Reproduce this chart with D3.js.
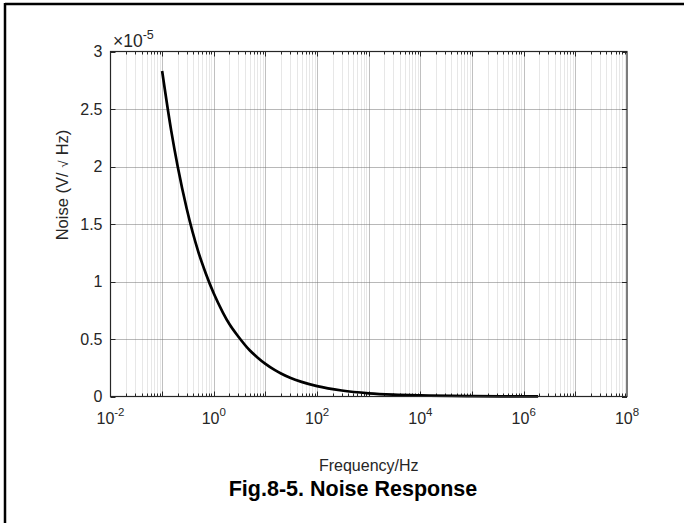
<!DOCTYPE html>
<html lang="en">
<head>
<meta charset="utf-8">
<title>Noise Response</title>
<script src="https://cdn.jsdelivr.net/npm/d3@7"></script>
<style>
  body { margin: 0; background: #fff; }
  svg text { font-family: "Liberation Sans", Arial, sans-serif; fill: #262626; }
</style>
</head>
<body>
<div id="chart"></div>
<script>
// data (noise in units of 1e-5 V/sqrt(Hz))
var freqHz   = [0.1, 0.15, 0.2, 0.3, 0.5, 0.7, 1, 1.5, 2, 3, 5, 7, 10, 15, 20, 30, 50, 100, 300, 1000, 3000, 1e4, 1e5, 1e6, 1.9e6];
var noiseE5  = [2.83, 2.31, 2.0, 1.63, 1.26, 1.07, 0.895, 0.73, 0.63, 0.52, 0.40, 0.34, 0.283, 0.231, 0.20, 0.163, 0.127, 0.09, 0.052, 0.028, 0.016, 0.009, 0.003, 0.001, 0.0006];
var xTickExp = [-2, 0, 2, 4, 6, 8];
var yTicks   = [0, 0.5, 1, 1.5, 2, 2.5, 3];

var w = 684, h = 523;
var pL = 110.5, pR = 627, pT = 51.5, pB = 396.5;

var svg = d3.select("#chart").append("svg")
  .attr("width", w).attr("height", h);

// outer frame (top + left only)
svg.append("line").attr("x1", 5).attr("x2", w).attr("y1", 4).attr("y2", 4)
  .attr("stroke", "#000").attr("stroke-width", 2.5);
svg.append("line").attr("x1", 5).attr("x2", 5).attr("y1", 3).attr("y2", h)
  .attr("stroke", "#000").attr("stroke-width", 2.5);

var xScale = d3.scaleLog().domain([1e-2, 1e8]).range([pL, pR]);
var yScale = d3.scaleLinear().domain([0, 3]).range([pB, pT]);

// minor x positions: 2..9 in every decade
var minorX = [];
for (var e = -2; e < 8; e++) {
  for (var m = 2; m <= 9; m++) minorX.push(m * Math.pow(10, e));
}
var majorX = [-1, 0, 1, 2, 3, 4, 5, 6, 7].map(function(d) { return Math.pow(10, d); });

function px(d) { return Math.round(xScale(d)) + 0.5; }
function py(d) { return Math.round(yScale(d)) + 0.5; }

var grid = svg.append("g");
grid.selectAll(".minor").data(minorX).enter().append("line")
  .attr("x1", px).attr("x2", px)
  .attr("y1", pT).attr("y2", pB)
  .attr("stroke", "#cfcfcf").attr("stroke-dasharray", "1,1");
grid.selectAll(".majx").data(majorX).enter().append("line")
  .attr("x1", px).attr("x2", px)
  .attr("y1", pT).attr("y2", pB)
  .attr("stroke", "#808080").attr("stroke-dasharray", "1,1");
grid.selectAll(".majy").data(yTicks.slice(1, -1)).enter().append("line")
  .attr("x1", pL).attr("x2", pR)
  .attr("y1", py).attr("y2", py)
  .attr("stroke", "#707070").attr("stroke-dasharray", "1,1");

// ticks (inside, on all sides)
var tk = svg.append("g").attr("stroke", "#262626");
tk.selectAll(".mb").data(minorX).enter().append("line")
  .attr("x1", px).attr("x2", px).attr("y1", pB).attr("y2", pB - 3);
tk.selectAll(".mt").data(minorX).enter().append("line")
  .attr("x1", px).attr("x2", px).attr("y1", pT).attr("y2", pT + 3);
tk.selectAll(".Mb").data(majorX).enter().append("line")
  .attr("x1", px).attr("x2", px).attr("y1", pB).attr("y2", pB - 5);
tk.selectAll(".Mt").data(majorX).enter().append("line")
  .attr("x1", px).attr("x2", px).attr("y1", pT).attr("y2", pT + 5);
tk.selectAll(".yl").data(yTicks).enter().append("line")
  .attr("x1", pL).attr("x2", pL + 5).attr("y1", py).attr("y2", py);
tk.selectAll(".yr").data(yTicks).enter().append("line")
  .attr("x1", pR).attr("x2", pR - 5).attr("y1", py).attr("y2", py);

// the curve
var line = d3.line()
  .x(function(d, i) { return xScale(freqHz[i]); })
  .y(function(d) { return yScale(d); })
  .curve(d3.curveMonotoneX);
svg.append("path").datum(noiseE5)
  .attr("d", line)
  .attr("fill", "none").attr("stroke", "#000").attr("stroke-width", 2.7);

// axis box
svg.append("rect")
  .attr("x", pL).attr("y", pT)
  .attr("width", pR - pL).attr("height", pB - pT)
  .attr("fill", "none").attr("stroke", "#262626").attr("stroke-width", 1.2);

// x tick labels 10^n
var xl = svg.selectAll(".xlab").data(xTickExp).enter().append("text")
  .attr("x", function(d) { return xScale(Math.pow(10, d)); })
  .attr("y", 424)
  .attr("text-anchor", "middle")
  .style("font-size", "16px");
xl.append("tspan").text("10");
xl.append("tspan").attr("dy", -8).style("font-size", "11.5px").text(function(d) { return d; });

// y tick labels
svg.selectAll(".ylab").data(yTicks).enter().append("text")
  .attr("x", pL - 8)
  .attr("y", function(d) { return yScale(d) + 5.5; })
  .attr("text-anchor", "end")
  .style("font-size", "16px")
  .text(function(d) { return d; });

// exponent note
var ex = svg.append("text").attr("x", 113).attr("y", 47).style("font-size", "17.5px");
ex.append("tspan").text("\u00d710");
ex.append("tspan").attr("dy", -8).style("font-size", "12.5px").text("-5");

// axis labels
svg.append("text")
  .attr("x", (pL + pR) / 2).attr("y", 471)
  .attr("text-anchor", "middle").style("font-size", "16px")
  .text("Frequency/Hz");
var yt = svg.append("text")
  .attr("transform", "translate(68,185) rotate(-90)")
  .attr("text-anchor", "middle").style("font-size", "16.5px");
yt.append("tspan").text("Noise (V/");
yt.append("tspan").attr("dx", 5).style("font-size", "13px").text("\u221a");
yt.append("tspan").attr("dx", 5).text("Hz)");

// caption
svg.append("text")
  .attr("x", 353).attr("y", 496)
  .attr("text-anchor", "middle")
  .style("font-size", "21.5px").style("font-weight", "bold").style("fill", "#000")
  .text("Fig.8-5. Noise Response");
</script>
</body>
</html>
